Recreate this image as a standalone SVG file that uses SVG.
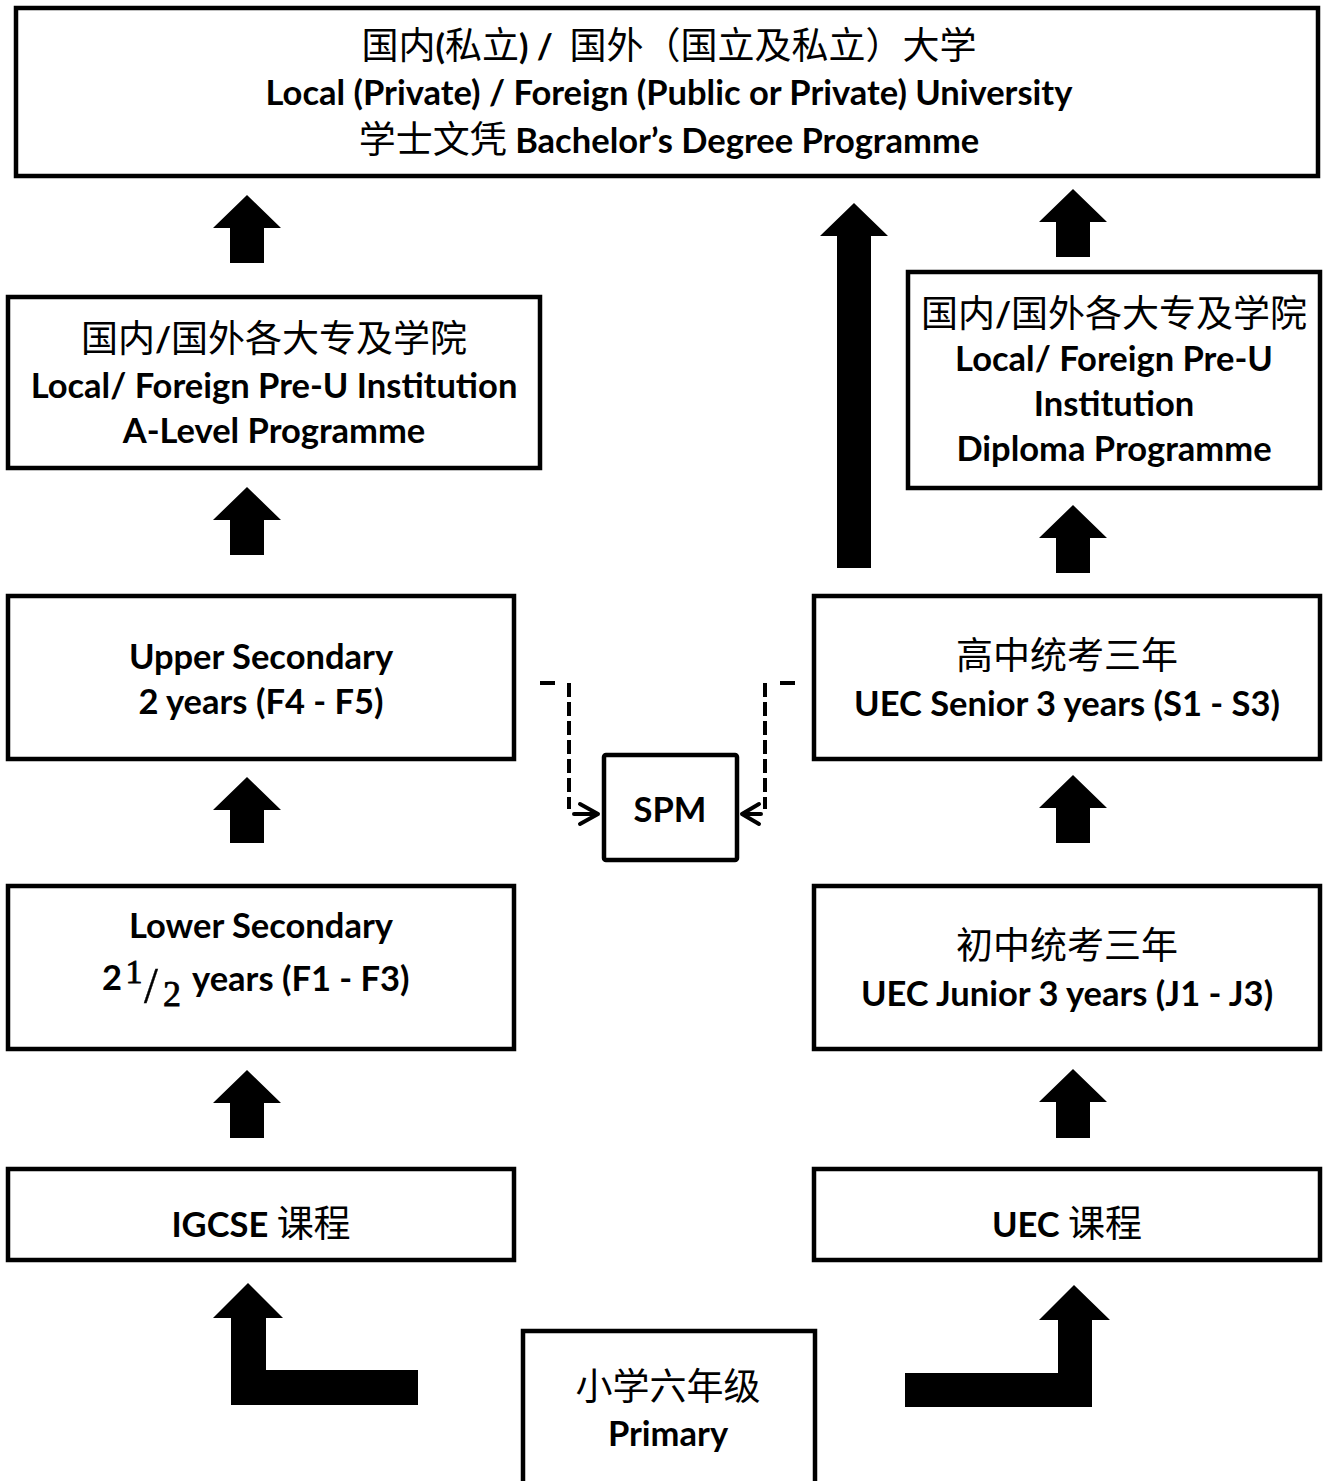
<svg xmlns="http://www.w3.org/2000/svg" width="1324" height="1481" viewBox="0 0 1324 1481">
<style>
.box{fill:#fff;stroke:#000;stroke-width:4.5}
.en{font-family:Lato,"Noto Sans CJK SC",sans-serif;font-weight:700;font-size:34.5px;text-anchor:middle;fill:#000}
.cn{font-family:"Noto Sans CJK SC",sans-serif;font-weight:400;font-size:37px}
.frac{font-family:"Liberation Serif",serif;font-weight:400;fill:#000;text-anchor:middle}
.arrow{fill:#000}
.dash{stroke:#000;stroke-width:4;fill:none;stroke-dasharray:14 5}
.solid{stroke:#000;stroke-width:4;fill:none;stroke-linecap:round;stroke-linejoin:round}
</style>
<rect width="1324" height="1481" fill="#fff"/>

<g id="university">
<rect class="box" x="16" y="8" width="1302" height="168"/>
<text class="en" x="669" y="59"><tspan class="cn">国内</tspan>(<tspan class="cn">私立</tspan>) / &#160;<tspan class="cn">国外（国立及私立）大学</tspan></text>
<text class="en" x="669" y="105">Local (Private) / Foreign (Public or Private) University</text>
<text class="en" x="669" y="153"><tspan class="cn">学士文凭</tspan> Bachelor’s Degree Programme</text>
</g>

<g id="alevel">
<rect class="box" x="8" y="297" width="532" height="171"/>
<text class="en" x="274" y="352"><tspan class="cn">国内</tspan>/<tspan class="cn">国外各大专及学院</tspan></text>
<text class="en" x="274" y="398">Local/ Foreign Pre-U Institution</text>
<text class="en" x="274" y="443">A-Level Programme</text>
</g>

<g id="diploma">
<rect class="box" x="908" y="272" width="412" height="216"/>
<text class="en" x="1114" y="327"><tspan class="cn">国内</tspan>/<tspan class="cn">国外各大专及学院</tspan></text>
<text class="en" x="1114" y="371">Local/ Foreign Pre-U</text>
<text class="en" x="1114" y="416">Institution</text>
<text class="en" x="1114" y="461">Diploma Programme</text>
</g>

<g id="upper-secondary">
<rect class="box" x="8" y="596" width="506" height="163"/>
<text class="en" x="261" y="669">Upper Secondary</text>
<text class="en" x="261" y="714">2 years (F4 - F5)</text>
</g>

<g id="uec-senior">
<rect class="box" x="814" y="596" width="506" height="163"/>
<text class="en" x="1067" y="669"><tspan class="cn">高中统考三年</tspan></text>
<text class="en" x="1067" y="716">UEC Senior 3 years (S1 - S3)</text>
</g>

<g id="spm">
<rect class="box" x="604" y="755" width="133" height="105" rx="2"/>
<text class="en" x="670" y="822">SPM</text>
</g>

<g id="lower-secondary">
<rect class="box" x="8" y="886" width="506" height="163"/>
<text class="en" x="261" y="938">Lower Secondary</text>
<text class="en" x="112" y="990">2</text>
<text class="frac" x="134" y="983" font-size="34px" stroke="#000" stroke-width="0.8">1</text>
<text class="frac" x="151" y="1002" font-size="50px" stroke="#000" stroke-width="0.4">/</text>
<text class="frac" x="172" y="1006" font-size="36px" stroke="#000" stroke-width="0.8">2</text>
<text class="en" x="192" y="991" style="text-anchor:start">years (F1 - F3)</text>
</g>

<g id="uec-junior">
<rect class="box" x="814" y="886" width="506" height="163"/>
<text class="en" x="1067" y="959"><tspan class="cn">初中统考三年</tspan></text>
<text class="en" x="1067" y="1006">UEC Junior 3 years (J1 - J3)</text>
</g>

<g id="igcse">
<rect class="box" x="8" y="1169" width="506" height="91"/>
<text class="en" x="261" y="1237">IGCSE <tspan class="cn">课程</tspan></text>
</g>

<g id="uec-course">
<rect class="box" x="814" y="1169" width="506" height="91"/>
<text class="en" x="1067" y="1237">UEC <tspan class="cn">课程</tspan></text>
</g>

<g id="primary">
<rect class="box" x="523" y="1331" width="292" height="170"/>
<text class="en" x="668" y="1400"><tspan class="cn">小学六年级</tspan></text>
<text class="en" x="668" y="1446">Primary</text>
</g>

<g id="connectors">
<polygon class="arrow" points="247,195 281,228 264,228 264,263 230,263 230,228 213,228"/>
<polygon class="arrow" points="247,487 281,520 264,520 264,555 230,555 230,520 213,520"/>
<polygon class="arrow" points="247,777 281,810 264,810 264,843 230,843 230,810 213,810"/>
<polygon class="arrow" points="247,1070 281,1103 264,1103 264,1138 230,1138 230,1103 213,1103"/>
<polygon class="arrow" points="1073,189 1107,222 1090,222 1090,257 1056,257 1056,222 1039,222"/>
<polygon class="arrow" points="1073,505 1107,538 1090,538 1090,573 1056,573 1056,538 1039,538"/>
<polygon class="arrow" points="1073,775 1107,808 1090,808 1090,843 1056,843 1056,808 1039,808"/>
<polygon class="arrow" points="1073,1069 1107,1102 1090,1102 1090,1138 1056,1138 1056,1102 1039,1102"/>
<polygon class="arrow" points="854,203 888,236 871,236 871,568 837,568 837,236 820,236"/>
<polygon class="arrow" points="248,1283 283,1318 266,1318 266,1370 418,1370 418,1405 231,1405 231,1318 213,1318"/>
<polygon class="arrow" points="1074,1285 1110,1320 1092,1320 1092,1407 905,1407 905,1373 1058,1373 1058,1320 1039,1320"/>
<line class="solid" x1="540" y1="683" x2="555" y2="683" style="stroke-linecap:butt"/>
<line class="dash" x1="569" y1="683" x2="569" y2="809"/>
<path class="solid" d="M574,814 H598 M580,804 L598,814 L580,824"/>
<line class="solid" x1="780" y1="683" x2="795" y2="683" style="stroke-linecap:butt"/>
<line class="dash" x1="765" y1="683" x2="765" y2="809"/>
<path class="solid" d="M761,814 H742 M759,804 L742,814 L759,824"/>
</g>
</svg>
